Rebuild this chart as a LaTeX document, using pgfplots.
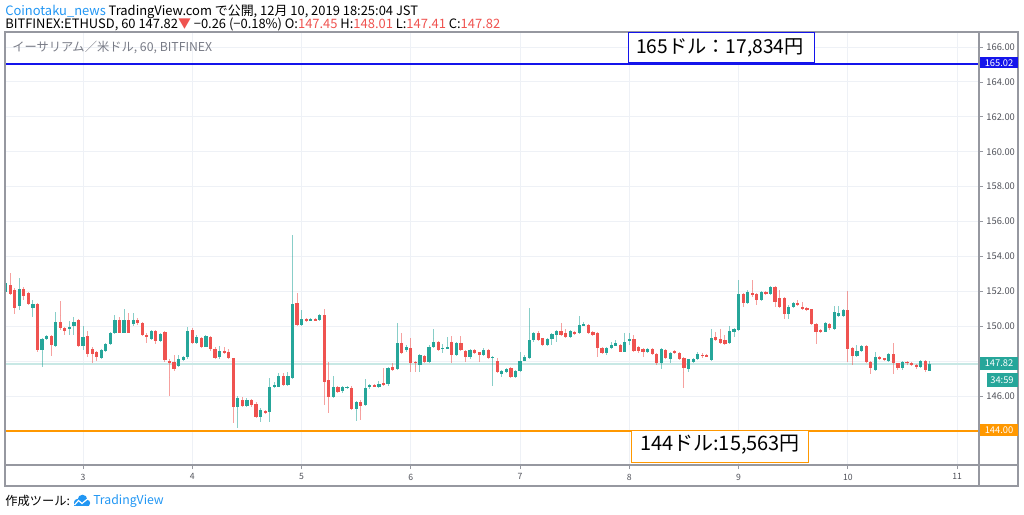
\documentclass[border=0pt]{standalone}
\usepackage{fontspec}
\setmainfont{Noto Sans CJK JP}
\usepackage{pgfplots}
\usepackage{pgfplotstable}
\pgfplotsset{compat=1.18}
\definecolor{upcol}{HTML}{26A69A}
\definecolor{dncol}{HTML}{EF5350}
\definecolor{linkblue}{HTML}{2196F3}
\definecolor{bluel}{RGB}{20,20,235}
\definecolor{orangel}{HTML}{FF9800}
\definecolor{framecol}{RGB}{150,152,160}
\definecolor{gridcol}{RGB}{238,241,246}
\definecolor{labelcol}{RGB}{80,82,90}
\definecolor{subgray}{RGB}{120,123,134}
\definecolor{lastline}{RGB}{200,232,229}

\pgfplotstableread{
t o h l c
7 151.94 152.55 151.90 152.46
10 151.18 152.75 150.93 152.12
13 151.07 151.50 150.55 151.28
15 148.64 149.35 147.65 149.27
16 149.27 149.50 149.20 149.44
18 148.87 150.84 148.80 150.25
21 149.83 150.30 149.50 149.94
22 150.02 150.51 149.50 150.25
24 148.89 150.00 148.64 149.37
28 148.16 148.70 148.10 148.64
29 148.60 149.05 148.55 148.97
30 148.99 149.70 148.95 149.63
31 149.60 150.65 149.55 150.36
33 149.63 150.97 149.60 150.36
35 150.11 150.74 150.00 150.34
39 149.25 149.80 149.20 149.75
41 149.17 149.60 149.10 149.56
45 147.71 148.35 147.65 148.10
46 148.07 148.30 148.00 148.26
47 148.22 149.94 148.15 149.75
49 149.06 149.50 149.00 149.40
51 148.83 149.50 148.80 149.44
54 148.22 148.87 148.15 148.60
58 145.39 146.00 144.15 145.91
60 145.43 145.91 145.38 145.78
63 144.82 145.30 144.53 145.20
65 145.11 147.02 144.53 146.54
66 146.54 146.80 146.45 146.63
67 146.54 147.30 146.50 147.17
69 146.63 147.40 146.55 147.17
70 147.02 155.23 146.95 151.28
72 150.10 150.95 150.00 150.42
74 150.32 150.45 150.28 150.40
76 150.36 150.70 150.30 150.65
79 145.97 147.17 145.90 146.50
81 146.30 146.55 146.20 146.50
82 146.46 146.60 146.40 146.54
84 145.24 145.70 144.59 145.64
86 145.49 147.00 145.45 146.44
87 146.50 146.70 146.40 146.64
89 146.50 146.85 146.45 146.69
91 146.69 147.65 146.60 147.59
93 147.53 150.21 147.50 149.02
95 148.65 148.90 148.55 148.83
98 147.78 148.40 147.40 148.35
100 147.97 148.92 147.90 148.83
101 148.80 149.83 148.75 149.08
103 148.70 149.00 148.45 148.76
104 148.74 149.40 148.70 148.82
106 148.35 149.10 148.30 149.02
109 148.22 148.70 148.15 148.64
112 148.35 148.75 148.30 148.64
114 148.18 148.30 146.58 148.26
116 147.27 147.50 147.08 147.46
117 147.40 147.60 147.35 147.55
119 147.11 147.50 147.05 147.46
120 147.46 148.55 147.40 148.03
121 148.03 148.35 148.00 148.22
122 148.16 151.03 148.10 149.21
123 149.21 149.70 149.10 149.63
126 148.92 149.30 148.88 149.25
127 149.25 149.64 148.95 149.56
128 149.50 149.80 149.07 149.75
131 149.37 149.80 149.30 149.73
133 149.60 150.61 149.55 150.05
134 150.05 150.25 150.00 150.12
139 148.45 148.80 148.35 148.77
140 148.73 149.10 148.70 148.92
141 148.88 149.20 148.85 149.02
143 148.55 149.60 148.50 149.12
144 149.17 149.60 148.92 149.25
148 148.53 148.75 148.45 148.70
151 147.92 148.75 147.55 148.68
153 148.13 148.55 147.92 148.49
157 147.55 148.15 147.36 148.11
158 147.97 148.20 147.92 148.13
159 148.13 148.50 148.05 148.41
162 148.07 149.82 148.00 149.33
166 149.06 150.00 149.00 149.75
167 149.69 149.90 149.40 149.84
168 149.79 152.65 149.70 151.83
170 151.31 152.07 151.25 151.96
173 151.50 152.00 151.45 151.96
175 151.85 152.30 151.80 152.23
179 150.68 151.20 150.39 151.12
180 151.12 151.40 151.05 151.31
187 149.69 150.22 149.65 150.17
189 149.83 151.16 149.80 150.80
190 150.59 151.16 150.55 150.78
191 150.61 151.00 150.55 150.93
194 148.30 148.90 148.25 148.60
195 148.60 148.95 148.55 148.89
198 147.50 148.55 147.42 148.22
201 148.03 148.45 147.98 148.41
204 147.59 148.00 147.50 147.97
208 147.65 148.07 147.60 148.03
210 147.45 148.01 147.41 147.82
}\up

\pgfplotstableread{
t o h l c
8 152.37 153.07 151.80 151.83
9 152.10 152.20 150.69 151.07
11 152.12 152.27 151.50 151.73
12 151.89 151.98 151.20 151.28
14 151.26 151.35 148.55 148.64
17 149.44 149.50 148.32 148.93
19 150.25 151.47 149.79 149.92
20 149.88 149.95 149.50 149.75
23 150.34 150.40 148.80 148.87
25 149.46 149.75 148.26 148.41
26 148.72 148.80 147.88 148.41
27 148.55 148.60 148.00 148.26
32 150.34 150.55 149.60 149.63
34 150.34 150.74 149.60 149.63
36 150.34 150.50 150.10 150.17
37 150.17 150.25 149.45 149.50
38 149.50 149.60 149.03 149.37
40 149.73 149.80 148.98 149.17
42 149.69 149.75 147.97 148.07
43 148.03 148.10 146.02 147.93
44 147.97 148.35 147.45 147.53
48 149.79 149.88 149.00 149.06
50 149.31 149.40 148.75 148.79
52 149.40 149.45 148.60 148.68
53 148.68 148.83 148.10 148.20
55 148.60 148.83 148.40 148.45
56 148.50 148.68 148.10 148.16
57 148.16 148.20 144.44 145.39
59 145.78 145.97 145.35 145.43
61 145.78 145.85 145.40 145.49
62 145.55 145.65 144.76 144.82
64 145.15 145.20 144.95 145.01
68 147.17 147.30 146.55 146.63
71 151.31 151.93 150.00 150.07
73 150.42 150.50 150.25 150.32
75 150.40 150.45 150.28 150.32
77 150.65 150.97 145.49 146.83
78 146.92 147.97 145.01 145.97
80 146.50 146.60 146.15 146.25
83 146.48 146.55 145.20 145.24
85 145.68 145.75 144.63 145.43
88 146.64 146.70 146.50 146.56
90 146.73 147.59 146.60 146.65
92 147.69 147.88 147.45 147.50
94 149.06 149.60 148.40 148.49
96 148.77 149.31 147.40 147.92
97 147.97 148.00 147.40 147.92
99 148.30 148.35 147.90 147.97
102 149.08 149.15 148.60 148.64
105 149.08 149.44 147.88 148.35
107 149.02 149.44 148.60 148.64
108 148.60 148.65 147.97 148.22
110 148.64 148.70 148.40 148.45
111 148.50 148.55 147.97 148.35
113 148.64 148.70 148.15 148.20
115 148.03 148.16 147.35 147.40
118 147.59 147.65 147.05 147.11
124 149.63 149.70 149.15 149.21
125 149.31 149.35 148.85 148.92
129 149.75 150.17 149.45 149.50
130 149.60 149.83 149.30 149.37
132 149.67 149.75 149.50 149.56
135 150.09 150.15 149.58 149.63
136 149.69 149.75 149.45 149.50
137 149.60 149.65 148.22 148.73
138 148.77 148.80 148.40 148.49
142 148.92 148.98 148.50 148.55
145 149.25 149.50 148.55 148.60
146 148.79 148.85 148.45 148.60
147 148.70 148.75 148.26 148.55
149 148.68 148.75 148.35 148.41
150 148.41 148.45 147.78 147.88
152 148.64 148.70 148.10 148.16
154 148.58 148.65 148.40 148.45
155 148.45 148.50 148.05 148.13
156 148.20 148.25 146.44 147.59
160 148.36 148.45 148.20 148.30
161 148.36 148.40 148.22 148.28
163 149.37 149.69 149.15 149.21
164 149.27 149.82 149.00 149.06
165 149.21 149.50 148.92 148.98
169 151.83 151.90 151.08 151.31
171 151.92 152.65 151.70 151.79
172 151.85 151.90 151.22 151.50
174 151.96 152.00 151.80 151.85
176 152.23 152.28 151.12 151.41
177 151.64 152.07 151.05 151.12
178 151.64 151.70 150.39 150.70
181 151.31 151.50 151.15 151.22
182 151.10 151.41 150.95 151.00
183 151.05 151.12 150.88 150.93
184 150.97 151.00 150.05 150.13
185 150.13 150.20 148.98 149.69
186 149.79 149.85 149.60 149.69
188 150.13 150.20 149.80 149.88
192 150.93 152.04 147.97 148.68
193 148.74 148.80 147.80 148.30
196 148.89 148.95 147.90 147.97
197 147.97 148.00 147.27 147.59
199 148.22 148.30 148.05 148.11
200 148.16 148.20 148.00 148.07
202 148.41 149.06 147.27 147.88
203 147.88 147.92 147.50 147.59
205 147.97 148.00 147.80 147.88
206 147.90 147.95 147.70 147.78
207 147.78 147.85 147.55 147.65
209 148.03 148.07 147.40 147.50
}\down

\newcommand{\hdr}{\fontsize{9.7}{11}\selectfont}
\pgfplotsset{
  candle/.style={only marks, mark=*, mark size=0pt, mark options={draw=none, fill=none}, forget plot,
    error bars/.cd, y dir=both, y explicit, error mark=none, error bar style={#1}},
}

\begin{document}
\begin{tikzpicture}
\useasboundingbox (0,0) rectangle (768pt,385.5pt);
\begin{axis}[
  at={(3.75pt,36.75pt)}, anchor=south west,
  scale only axis, width=730.5pt, height=324.75pt,
  xmin=6.86, xmax=220.8, ymin=142.05, ymax=166.86,
  axis line style={draw=framecol, line width=0.8pt},
  xtick={24,48,...,216}, xticklabels={3,4,5,6,7,8,9,10,11},
  ytick={144,146,...,166},
  yticklabels={,146.00,,150.00,152.00,154.00,156.00,158.00,160.00,162.00,164.00,166.00},
  xtick pos=lower, ytick pos=right, yticklabel pos=right,
  tick align=outside, major tick length=3pt,
  tick style={draw=framecol, line width=0.6pt},
  grid=major, major grid style={draw=gridcol, line width=0.75pt},
  xticklabel style={font=\fontsize{6.5}{7}\selectfont, text=labelcol},
  yticklabel style={font=\fontsize{7}{8}\selectfont, text=labelcol, xshift=-1pt},
  clip=true,
]
\addplot[lastline, line width=1.2pt, forget plot] coordinates {(6.86,147.82) (220.8,147.82)};
\addplot[bluel, line width=1.3pt, forget plot] coordinates {(6.86,165.02) (220.8,165.02)};
\addplot[orangel, line width=1.3pt, forget plot] coordinates {(6.86,144.0) (220.8,144.0)};
% wicks
\addplot[candle={draw=upcol, draw opacity=0.55, line width=0.75pt}]
  table[x=t, y expr={(\thisrow{h}+\thisrow{l})/2}, y error expr={(\thisrow{h}-\thisrow{l})/2}] {\up};
\addplot[candle={draw=dncol, draw opacity=0.55, line width=0.75pt}]
  table[x=t, y expr={(\thisrow{h}+\thisrow{l})/2}, y error expr={(\thisrow{h}-\thisrow{l})/2}] {\down};
% bodies
\addplot[candle={draw=upcol, line width=2.4pt}]
  table[x=t, y expr={(\thisrow{o}+\thisrow{c})/2}, y error expr={max(abs(\thisrow{c}-\thisrow{o})/2,0.035)}] {\up};
\addplot[candle={draw=dncol, line width=2.4pt}]
  table[x=t, y expr={(\thisrow{o}+\thisrow{c})/2}, y error expr={max(abs(\thisrow{c}-\thisrow{o})/2,0.035)}] {\down};
\end{axis}

\begin{scope}[x=0.75pt, y=-0.75pt, yshift=385.5pt]
  % frame
  \draw[framecol, line width=0.8pt] (5,32) rectangle (1018,486);
  \draw[framecol, line width=0.8pt] (979,32) -- (979,486);
  \draw[framecol, line width=0.8pt] (5,465) -- (1018,465);
  % header
  \node[anchor=west, inner sep=0pt, font=\hdr] at (5,12)
    {\textcolor{linkblue}{Coinotaku\_news} TradingView.com で公開, 12月 10, 2019 18:25:04 JST};
  \node[anchor=west, inner sep=0pt, font=\hdr] at (5,24.5)
    {BITFINEX:ETHUSD, 60 147.82\textcolor{dncol}{▼} −0.26 (−0.18\%) O:\textcolor{dncol}{147.45} H:\textcolor{dncol}{148.01} L:\textcolor{dncol}{147.41} C:\textcolor{dncol}{147.82}};
  \node[anchor=west, inner sep=0pt, font=\fontsize{9.2}{10}\selectfont, text=subgray] at (12,47.5)
    {イーサリアム／米ドル, 60, BITFINEX};
  % annotation boxes
  \draw[bluel, line width=0.75pt, fill=white] (628,32.5) rectangle (814,63);
  \node[font=\fontsize{14.4}{16}\selectfont, inner sep=0pt] at (720,47.5) {165ドル：17,834円};
  \draw[orangel, line width=0.75pt, fill=white] (631.5,431) rectangle (808,462);
  \node[font=\fontsize{15}{17}\selectfont, inner sep=0pt] at (720,445) {144ドル:15,563円};
  % price tags
  \fill[bluel] (979.5,57.3) rectangle (1017.5,68.5);
  \node[white, font=\fontsize{7}{8}\selectfont, inner sep=0pt] at (999,63) {165.02};
  \fill[orangel] (979.5,424.5) rectangle (1017.5,436.5);
  \node[white, font=\fontsize{7}{8}\selectfont, inner sep=0pt] at (999,430.5) {144.00};
  \fill[upcol] (979.5,357) rectangle (1017.5,370);
  \node[white, font=\fontsize{7}{8}\selectfont, inner sep=0pt] at (999,363.5) {147.82};
  \fill[upcol] (986.5,373.5) rectangle (1017.5,387);
  \node[white, font=\fontsize{7}{8}\selectfont, inner sep=0pt] at (1002,380.2) {34:59};
  % footer
  \node[anchor=west, inner sep=0pt, font=\fontsize{9.2}{10}\selectfont] at (5,501) {作成ツール:};
  \fill[linkblue] (77.5,502.5) circle (3.6);
  \fill[linkblue] (82.5,499.5) circle (4.8);
  \fill[linkblue] (87,503) circle (3.2);
  \fill[linkblue] (74,502.5) rectangle (89,506.2);
  \draw[white, line width=0.9pt] (74.5,505) -- (78.5,500.5) -- (82,503.5) -- (88,498.5);
  \node[anchor=west, inner sep=0pt, font=\fontsize{9.2}{10}\selectfont, text=linkblue] at (93,501) {TradingView};
\end{scope}
\end{tikzpicture}
\end{document}
